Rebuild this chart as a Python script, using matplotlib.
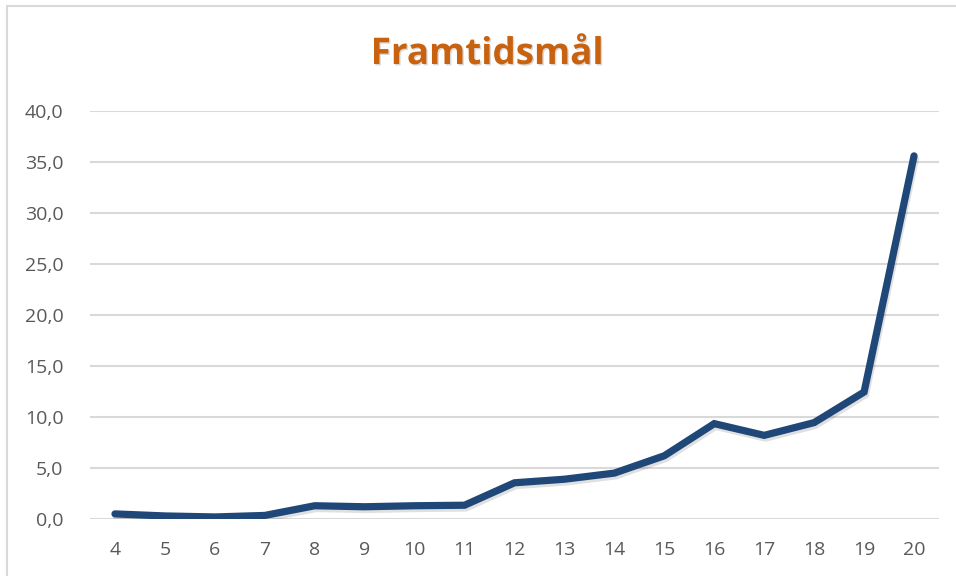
import matplotlib
matplotlib.use("Agg")
import matplotlib.pyplot as plt
import matplotlib.patheffects as pe
from matplotlib.ticker import FuncFormatter

# Data
ages = [4, 5, 6, 7, 8, 9, 10, 11, 12, 13, 14, 15, 16, 17, 18, 19, 20]
values = [0.5, 0.3, 0.2, 0.35, 1.3, 1.2, 1.3, 1.35, 3.55, 3.9, 4.5, 6.2,
          9.35, 8.2, 9.45, 12.45, 35.6]
y_ticks = [0, 5, 10, 15, 20, 25, 30, 35, 40]

W, H = 956, 576
fig = plt.figure(figsize=(W / 100, H / 100), dpi=100)
fig.patch.set_facecolor("white")

# light frame of the chart area (right/bottom edges fall outside the picture)
frame = plt.Rectangle((7 / W, -0.05), 1.1, 1 - 5.5 / H + 0.05,
                      transform=fig.transFigure, fill=False,
                      edgecolor="#D9D9D9", linewidth=1.5)
fig.patches.append(frame)

ax = fig.add_axes([90 / W, 57 / H, (939 - 90) / W, (519 - 111) / H])
ax.set_xlim(3.5, 20.5)
ax.set_ylim(0, 40)

ax.plot(ages, values, color="#1F4778", linewidth=5.2, solid_capstyle="round",
        solid_joinstyle="miter", zorder=3,
        path_effects=[pe.SimpleLineShadow(offset=(1, -2), shadow_color="black", alpha=0.12),
                      pe.Normal()])

ax.set_yticks(y_ticks)
ax.set_xticks(ages)
ax.yaxis.set_major_formatter(FuncFormatter(lambda v, p: f"{v:.1f}".replace(".", ",")))
ax.grid(axis="y", color="#D9D9D9", linewidth=1.5)
ax.set_axisbelow(True)
for s in ax.spines.values():
    s.set_visible(False)
ax.tick_params(length=0, labelsize=14, labelcolor="#595959")
ax.tick_params(axis="x", pad=16)
ax.tick_params(axis="y", pad=19)
for lab in ax.get_xticklabels() + ax.get_yticklabels():
    lab.set_fontfamily("Open Sans")

fig.text(487 / W, 1 - 54 / H, "Framtidsmål", ha="center", va="center",
         fontsize=26.5, fontweight="bold", color="#C8620F", family="Open Sans",
         path_effects=[pe.withSimplePatchShadow(offset=(1, -1), shadow_rgbFace="black", alpha=0.15)])

fig.savefig("out.png", dpi=100)
